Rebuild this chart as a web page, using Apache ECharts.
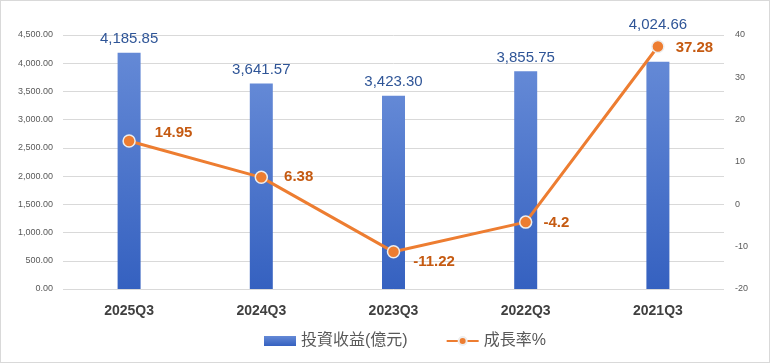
<!DOCTYPE html>
<html><head><meta charset="utf-8">
<script src="https://cdn.jsdelivr.net/npm/echarts@6/dist/echarts.min.js"></script>
<style>html,body{margin:0;padding:0;background:#fff}#c{width:768px;height:361px;border:1px solid #d9d9d9}</style>
</head><body><div id="c"></div>
<script>
var categories = ['2025Q3','2024Q3','2023Q3','2022Q3','2021Q3'];
var income = [4185.85, 3641.57, 3423.30, 3855.75, 4024.66];
var growth = [14.95, 6.38, -11.22, -4.2, 37.28];
var barName = '投資收益(億元)';
var lineName = '成長率%';

var chart = echarts.init(document.getElementById('c'));
var fontNum = '"Liberation Sans", Arial, sans-serif';
var fontCjk = '"Liberation Sans", "Noto Sans CJK TC", sans-serif';
var fmt2 = function(v){ return v.toLocaleString('en-US',{minimumFractionDigits:2, maximumFractionDigits:2}); };

// label placement tweaks (layout only, not data)
var barLabelLift = {4: [0, -23]};
var lineLabelShift = [[8, -8], [5, 0], [2, 10], [0, 1], [0, 1]];

var barData = income.map(function(v, i){
  return barLabelLift[i] ? {value: v, label: {offset: barLabelLift[i]}} : v;
});
var lineData = growth.map(function(v, i){
  return {value: v, label: {offset: lineLabelShift[i]}};
});

chart.setOption({
  animation: false,
  grid: {left: 62, right: 45, top: 34, bottom: 73},
  legend: {
    bottom: 8, left: 258, itemWidth: 32, itemHeight: 10, itemGap: 38,
    textStyle: {fontFamily: fontCjk, fontSize: 16, color: '#595959'},
    data: [{name: barName, icon: 'rect'}, {name: lineName}]
  },
  xAxis: {
    type: 'category', data: categories,
    axisLine: {show: false}, axisTick: {show: false},
    axisLabel: {fontFamily: fontNum, fontSize: 14, fontWeight: 'bold', color: '#404040', margin: 15}
  },
  yAxis: [{
    type: 'value', min: 0, max: 4500, interval: 500,
    axisLine: {show: false}, axisTick: {show: false},
    splitLine: {lineStyle: {color: '#d9d9d9'}},
    axisLabel: {fontFamily: fontNum, fontSize: 9, color: '#595959', margin: 10, formatter: fmt2}
  },{
    type: 'value', min: -20, max: 40, interval: 10,
    axisLine: {show: false}, axisTick: {show: false}, splitLine: {show: false},
    axisLabel: {fontFamily: fontNum, fontSize: 9, color: '#595959', margin: 11}
  }],
  series: [{
    name: barName, type: 'bar', data: barData, barWidth: 23,
    itemStyle: {color: new echarts.graphic.LinearGradient(0,0,0,1,[{offset:0,color:'#6489d6'},{offset:1,color:'#3561c0'}])},
    label: {show: true, position: 'top', distance: 6, fontFamily: fontNum, fontSize: 15, color: '#2f5597',
      formatter: function(p){ return fmt2(p.value); }}
  },{
    name: lineName, type: 'line', yAxisIndex: 1, data: lineData, z: 5,
    lineStyle: {color: '#ed7d31', width: 3},
    symbol: 'circle', symbolSize: 12,
    itemStyle: {color: '#ed7d31', borderColor: '#eeeeee', borderWidth: 1.5},
    label: {show: true, position: 'right', distance: 11, fontFamily: fontNum, fontSize: 15, fontWeight: 'bold', color: '#c55a11'}
  }]
});
</script></body></html>
